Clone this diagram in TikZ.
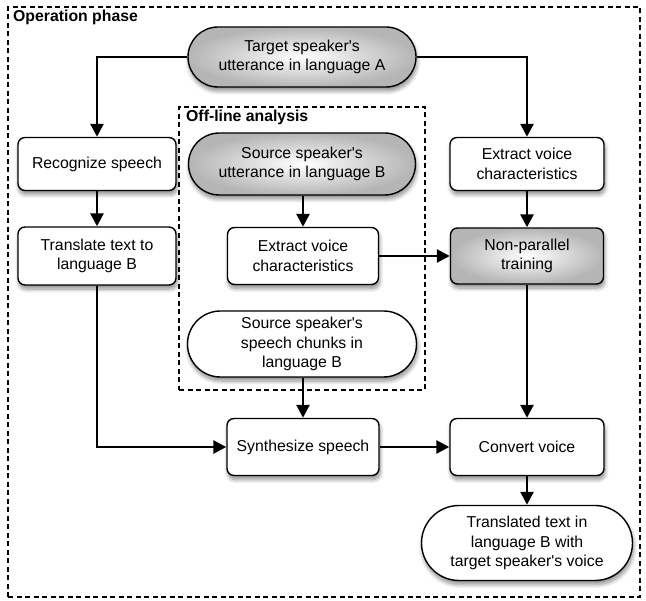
\documentclass[tikz,border=0pt]{standalone}
\usepackage{fontspec}
\setmainfont{Liberation Sans}
\usetikzlibrary{shapes.misc,arrows.meta,shadows.blur}
\newcommand{\ap}{\textquotesingle}
\begin{document}
\begin{tikzpicture}[x=1pt,y=-1pt,
  font=\fontsize{15.8}{19.5}\selectfont,
  shad/.style={blur shadow={shadow xshift=1pt, shadow yshift=-4pt, shadow blur steps=8, shadow blur radius=4pt, shadow opacity=45}},
  box/.style={draw, line width=1.4pt, rounded corners=7pt, fill=white, align=center, inner sep=0pt, shad},
  pill/.style={draw, line width=1.4pt, rounded rectangle, fill=white, align=center, inner sep=0pt, shad},
  grayfill/.style={shade, inner color=white, outer color=gray!58},
  frame/.style={draw, dashed, line width=1.1pt, dash pattern=on 5pt off 3.5pt, inner sep=0pt, fill=none},
  lbl/.style={font=\fontsize{15.8}{19.5}\selectfont\bfseries, anchor=base west, inner sep=0pt},
  arr/.style={line width=2.6pt, -{Triangle[length=13pt,width=13pt]}}
]
\useasboundingbox (0,0) rectangle (646,601);
\node[frame, minimum width=632, minimum height=590] (op) at (324,302) {};
\node[lbl] (oplbl) at (13,22) {Operation phase};
\node[frame, minimum width=246, minimum height=283] (off) at (302,248.5) {};
\node[lbl] (offlbl) at (186,122) {Off-line analysis};

\node[pill, grayfill, minimum width=228, minimum height=60] (target) at (302,57) {Target speaker\ap s\\utterance in language A};
\node[pill, grayfill, minimum width=227, minimum height=62] (srcutt) at (302,164) {Source speaker\ap s\\utterance in language B};
\node[box, minimum width=151, minimum height=57] (extI) at (303,256) {Extract voice\\characteristics};
\node[pill, minimum width=229, minimum height=66] (chunks) at (302,344) {Source speaker\ap s\\speech chunks in\\language B};
\node[box, minimum width=158, minimum height=53] (recog) at (97,164) {Recognize speech};
\node[box, minimum width=158, minimum height=58] (trans) at (97,256) {Translate text to\\language B};
\node[box, minimum width=154, minimum height=53] (extR) at (527,164) {Extract voice\\characteristics};
\node[box, grayfill, minimum width=153, minimum height=56] (npt) at (527,256) {Non-parallel\\training};
\node[box, minimum width=152, minimum height=57] (synth) at (303,447) {Synthesize speech};
\node[box, minimum width=154, minimum height=57] (conv) at (527,447) {Convert voice};
\node[pill, minimum width=211, minimum height=75] (transl) at (527,543) {Translated text in\\language B with\\target speaker\ap s voice};

\draw[arr] (target.west) -| (recog.north);
\draw[arr] (target.east) -| (extR.north);
\draw[arr] (recog) -- (trans);
\draw[arr] (extR) -- (npt);
\draw[arr] (srcutt.south -| extI.north) -- (extI.north);
\draw[arr] (extI) -- (npt);
\draw[arr] (npt) -- (conv);
\draw[arr] (trans.south) |- (synth.west);
\draw[arr] (chunks.south -| synth.north) -- (synth.north);
\draw[arr] (synth) -- (conv);
\draw[arr] (conv) -- (transl);
\end{tikzpicture}
\end{document}
